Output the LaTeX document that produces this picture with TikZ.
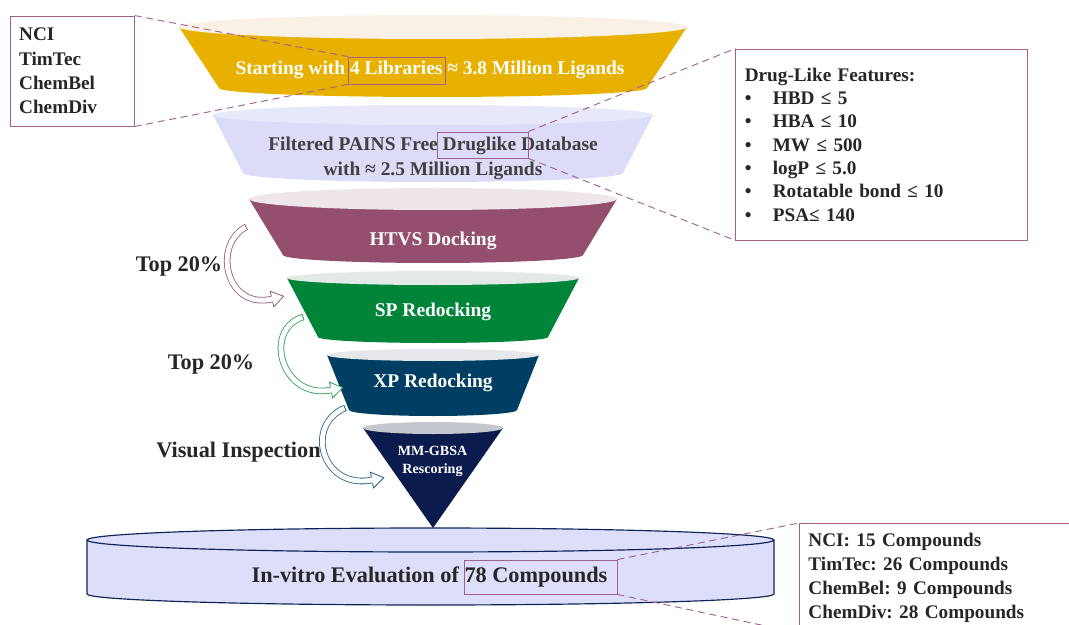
\documentclass[tikz,border=0pt]{standalone}
\usepackage{fontspec}
\setmainfont{Liberation Serif}
\usetikzlibrary{positioning, arrows.meta}
\frenchspacing

\definecolor{gold}{HTML}{E8B100}
\definecolor{goldlid}{HTML}{FAF1E6}
\definecolor{lilac}{HTML}{DCDCF9}
\definecolor{lilaclid}{HTML}{E8E8FB}
\definecolor{mauve}{HTML}{934F6D}
\definecolor{mauvelid}{HTML}{EEE6EA}
\definecolor{leaf}{HTML}{00843A}
\definecolor{leaflid}{HTML}{E3EAE6}
\definecolor{deep}{HTML}{003F63}
\definecolor{deeplid}{HTML}{E6E7EB}
\definecolor{navy}{HTML}{0B1B4D}
\definecolor{navylid}{HTML}{C5C7CE}
\definecolor{cylfill}{HTML}{DDDEFA}
\definecolor{cylline}{HTML}{10245A}
\definecolor{frame}{HTML}{A0628A}
\definecolor{ink}{HTML}{262626}
\definecolor{ink2}{HTML}{404040}
\definecolor{mauvearrow}{HTML}{9A5A7A}
\definecolor{leafarrow}{HTML}{2E9E55}
\definecolor{deeparrow}{HTML}{2A5F85}

\tikzset{
    hollowhead/.pic={
        \fill[white] (0,-8) -- (12,0) -- (0,8) -- cycle;
        \draw[line width=0.7pt, line join=miter] (0,-2.9) -- (0,-8) -- (12,0) -- (0,8) -- (0,2.9);
    },
    bandcap/.pic={
        \draw[line width=0.7pt] (0,-3.3) -- (0,3.3);
    }
}

\begin{document}
\begin{tikzpicture}[
        x=0.03cm, y=-0.03cm,
        lbl/.style={
            font=\bfseries\fontsize{16.6}{20}\selectfont,
            text=white,
            align=center
        },
        side/.style={
            font=\bfseries\fontsize{19}{22}\selectfont,
            text=ink
        },
        infobox/.style={
            draw=frame,
            line width=0.8pt,
            font=\bfseries\fontsize{16.4}{20.5}\selectfont,
            text=ink,
            align=left,
            inner xsep=0.25cm
        },
        hlbox/.style={
            draw=frame,
            line width=0.8pt,
            inner sep=0pt
        },
        zoomline/.style={
            draw=frame,
            line width=0.8pt,
            dash pattern=on 6pt off 4pt
        },
        band/.style={
            line width=0.7pt,
            double=white,
            double distance=4.2pt
        },
        cyl/.style={
            draw=cylline,
            line width=1pt
        }
    ]

        \useasboundingbox (0,0) rectangle (1069,625);
        \clip (0,0) rectangle (1069,625);

        % Cylinder at the bottom
        \fill[cylfill] (87,540) -- (87,594) arc[start angle=180, end angle=0, x radius=343.5, y radius=11] -- (774,540) -- cycle;
        \draw[cyl] (87,540) -- (87,594) arc[start angle=180, end angle=0, x radius=343.5, y radius=11] -- (774,540);
        \draw[cyl, fill=cylfill] (430.5,540) ellipse [x radius=343.5, y radius=12];

        % Funnel layers: lid y / lid rx / lid ry / bottom y / bottom rx / bottom ry / colours
        \foreach \cy/\rx/\ry/\by/\rb/\rby/\body/\lid in {
                27/254/12/88/214/9/gold/goldlid,
                115/220/10/173/190/9/lilac/lilaclid,
                199/184/11/255/150/8/mauve/mauvelid,
                278/146/7/337/115/6/leaf/leaflid,
                355/106/6/410/84/6/deep/deeplid,
                428/70/6/528/0.01/0.01/navy/navylid} {
            \fill[\body] (433-\rx,\cy) -- (433-\rb,\by)
                arc[start angle=180, end angle=0, x radius=\rb, y radius=\rby] -- (433+\rx,\cy) -- cycle;
            \fill[\lid] (433,\cy) ellipse [x radius=\rx, y radius=\ry];
        }

        % Stage texts
        \node[lbl] (stage1) at (430,70) {Starting with 4 Libraries ≈ 3.8 Million Ligands};
        \node[lbl, text=ink2, font=\bfseries\fontsize{16.6}{21}\selectfont] (stage2) at (433,158.5) {Filtered PAINS Free Druglike Database\\with ≈ 2.5 Million Ligands};
        \node[lbl] (stage3) at (433,241) {HTVS Docking};
        \node[lbl] (stage4) at (433,312) {SP Redocking};
        \node[lbl] (stage5) at (433,383) {XP Redocking};
        \node[lbl, font=\bfseries\fontsize{12}{15.5}\selectfont] (stage6) at (432.5,461) {MM-GBSA\\Rescoring};
        \node[lbl, text=ink, font=\bfseries\fontsize{19}{23}\selectfont] (final) at (429.5,577) {In-vitro Evaluation of 78 Compounds};

        % Curved hollow arrows between stages
        \coordinate (a1s) at (246,227);
        \coordinate (a1e) at (272,299);
        \coordinate (a2s) at (303,317);
        \coordinate (a2e) at (331,390);
        \coordinate (a3s) at (345,408);
        \coordinate (a3e) at (372,480);

        \draw[band, mauvearrow] (a1s) .. controls (212,245) and (226,310) .. (a1e)
            pic[pos=0, sloped] {bandcap} pic[pos=1, sloped] {hollowhead};
        \draw[band, leafarrow] (a2s) .. controls (262,330) and (282,400) .. (a2e)
            pic[pos=0, sloped] {bandcap} pic[pos=1, sloped] {hollowhead};
        \draw[band, deeparrow] (a3s) .. controls (304,425) and (322,490) .. (a3e)
            pic[pos=0, sloped] {bandcap} pic[pos=1, sloped] {hollowhead};

        \node[side] (cut1) at (179,266) {Top 20\%};
        \node[side] (cut2) at (211,364) {Top 20\%};
        \node[side] (visual) at (238.5,452) {Visual Inspection};

        % Side boxes
        \node[infobox, text width=3.2cm, minimum height=3.3cm, font=\bfseries\fontsize{16.4}{20.7}\selectfont] (src) at (72.5,71) {NCI\\TimTec\\ChemBel\\ChemDiv};
        \node[infobox, text width=8.2cm, inner xsep=0.27cm, minimum height=5.73cm, font=\bfseries\fontsize{16.4}{19.9}\selectfont] (feat) at (881.5,144.5) {Drug-Like Features:\\
            \makebox[0.84cm][l]{\textbullet}HBD ≤ 5\\
            \makebox[0.84cm][l]{\textbullet}HBA ≤ 10\\
            \makebox[0.84cm][l]{\textbullet}MW ≤ 500\\
            \makebox[0.84cm][l]{\textbullet}logP ≤ 5.0\\
            \makebox[0.84cm][l]{\textbullet}Rotatable bond ≤ 10\\
            \makebox[0.84cm][l]{\textbullet}PSA≤ 140};
        \node[infobox, anchor=north west, text width=8.5cm, inner xsep=0.27cm, inner ysep=0.3cm, font=\bfseries\fontsize{16.4}{20.4}\selectfont] (cpd) at (799,523) {NCI: 15 Compounds\\TimTec: 26 Compounds\\ChemBel: 9 Compounds\\ChemDiv: 28 Compounds};

        % Highlight boxes
        \node[hlbox, minimum width=2.91cm, minimum height=0.81cm] (libs) at (396.5,70.5) {};
        \node[hlbox, minimum width=2.73cm, minimum height=0.78cm] (druglike) at (482.5,145) {};
        \node[hlbox, minimum width=4.59cm, minimum height=1.02cm] (hits) at (540.5,577) {};

        % Zoom lines
        \draw[zoomline] (src.north east) -- (libs.north west);
        \draw[zoomline] (src.south east) -- (libs.south west);
        \draw[zoomline] (druglike.north east) -- (feat.north west);
        \draw[zoomline] (druglike.south east) -- (feat.south west);
        \draw[zoomline] (hits.north east) -- (cpd.north west);
        \draw[zoomline] (hits.south east) -- (cpd.south west);

    \end{tikzpicture}
\end{document}
